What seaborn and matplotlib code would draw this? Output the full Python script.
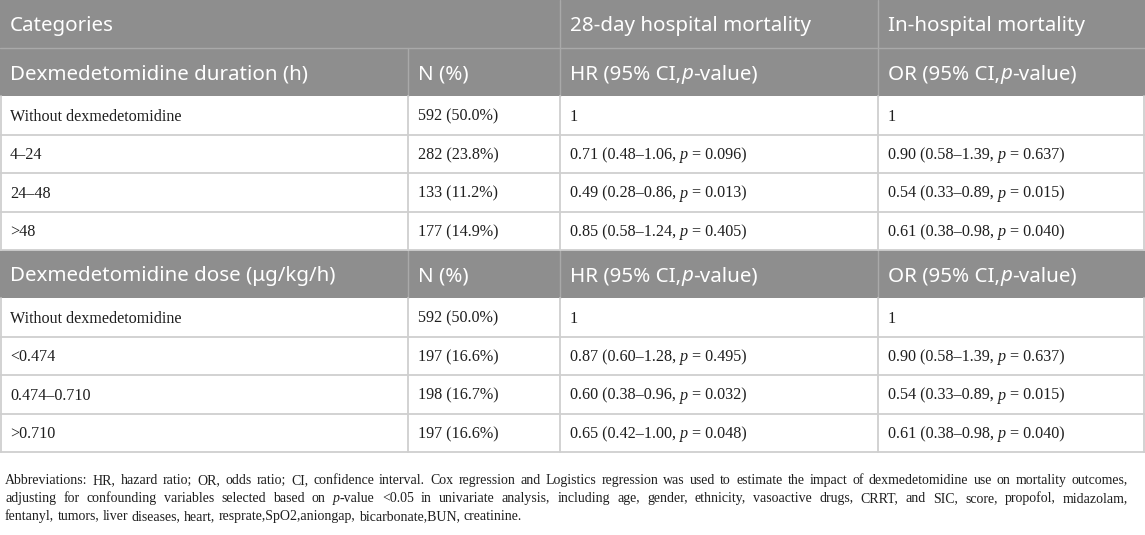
import matplotlib
matplotlib.use("Agg")
import matplotlib.pyplot as plt
from matplotlib.patches import Rectangle
import seaborn as sns

sns.set_theme(style="white")
plt.rcParams['font.family'] = ['Liberation Serif', 'DejaVu Serif']

# ---------------- data ----------------
duration_groups = ["Without dexmedetomidine", "4–24", "24–48", ">48"]
duration_n = [592, 282, 133, 177]
duration_pct = [50.0, 23.8, 11.2, 14.9]
duration_hr = [1, 0.71, 0.49, 0.85]
duration_hr_lo = [None, 0.48, 0.28, 0.58]
duration_hr_hi = [None, 1.06, 0.86, 1.24]
duration_hr_p = [None, 0.096, 0.013, 0.405]
duration_or = [1, 0.90, 0.54, 0.61]
duration_or_lo = [None, 0.58, 0.33, 0.38]
duration_or_hi = [None, 1.39, 0.89, 0.98]
duration_or_p = [None, 0.637, 0.015, 0.040]

dose_groups = ["Without dexmedetomidine", "<0.474", "0.474–0.710", ">0.710"]
dose_n = [592, 197, 198, 197]
dose_pct = [50.0, 16.6, 16.7, 16.6]
dose_hr = [1, 0.87, 0.60, 0.65]
dose_hr_lo = [None, 0.60, 0.38, 0.42]
dose_hr_hi = [None, 1.28, 0.96, 1.00]
dose_hr_p = [None, 0.495, 0.032, 0.048]
dose_or = [1, 0.90, 0.54, 0.61]
dose_or_lo = [None, 0.58, 0.33, 0.38]
dose_or_hi = [None, 1.39, 0.89, 0.98]
dose_or_p = [None, 0.637, 0.015, 0.040]

top_header = ["Categories", "28-day hospital mortality", "In-hospital mortality"]
duration_header = "Dexmedetomidine duration (h)"
dose_header = "Dexmedetomidine dose (μg/kg/h)"
col_headers = ["N (%)", "HR (95% CI,", "OR (95% CI,"]

footnote_lines = [
    "Abbreviations: HR, hazard ratio; OR, odds ratio; CI, confidence interval. Cox regression and Logistics regression was used to estimate the impact of dexmedetomidine use on mortality outcomes,",
    "adjusting for confounding variables selected based on p-value <0.05 in univariate analysis, including age, gender, ethnicity, vasoactive drugs, CRRT, and SIC, score, propofol, midazolam,",
    "fentanyl, tumors, liver diseases, heart, resprate,SpO2,aniongap, bicarbonate,BUN, creatinine.",
]

# ---------------- layout ----------------
W, H = 1145, 535
GRAY = "#8e8e8e"
HLINE = "#a9a9a9"
LINE = "#cfcfcf"
TXT = "#1e1e1e"
col_x = [0, 408, 560, 878, 1145]
hdr_h = 48
row_h = 38.5
PAD = 10

SANS = ['Noto Sans', 'DejaVu Sans']
SERIF = ['Liberation Serif', 'DejaVu Serif']
HDR_SIZE = 14.8
DATA_SIZE = 11.6

fig = plt.figure(figsize=(W / 100, H / 100), dpi=100)
ax = fig.add_axes([0, 0, 1, 1])
ax.set_xlim(0, W)
ax.set_ylim(H, 0)
ax.axis('off')
renderer = fig.canvas.get_renderer()


def text_w(s, size, family, style='normal'):
    if s == "":
        return 0.0
    t1 = ax.text(0, 0, "|" + s + "|", fontsize=size, family=family, style=style)
    t2 = ax.text(0, 0, "||", fontsize=size, family=family, style=style)
    w = t1.get_window_extent(renderer).width - t2.get_window_extent(renderer).width
    t1.remove()
    t2.remove()
    return w


def draw_runs(x, y, runs, size, family, color):
    for txt, style in runs:
        ax.text(x, y, txt, fontsize=size, family=family, style=style,
                color=color, va='baseline', ha='left')
        x += text_w(txt, size, family, style)
    return x


def stat_runs(v, lo, hi, p):
    if lo is None:
        return [(f"{v:g}", 'normal')]
    return [(f"{v:.2f} ({lo:.2f}–{hi:.2f}, ", 'normal'), ("p", 'italic'),
            (f" = {p:.3f})", 'normal')]


def hdr_base(y0, h):
    return y0 + h / 2 + 7.4


def data_base(y0):
    return y0 + row_h / 2 + 5.4


# ---- header background ----
ax.add_patch(Rectangle((0, 0), W, 2 * hdr_h, color=GRAY, lw=0))
y_dose_hdr = 2 * hdr_h + 4 * row_h
ax.add_patch(Rectangle((0, y_dose_hdr), W, hdr_h, color=GRAY, lw=0))

# header dividers
ax.plot([0, W], [hdr_h, hdr_h], color=HLINE, lw=1)
for cx in (col_x[2], col_x[3]):
    ax.plot([cx, cx], [0, 2 * hdr_h], color=HLINE, lw=1)
ax.plot([col_x[1], col_x[1]], [hdr_h, 2 * hdr_h], color=HLINE, lw=1)
for cx in col_x[1:4]:
    ax.plot([cx, cx], [y_dose_hdr, y_dose_hdr + hdr_h], color=HLINE, lw=1)

# header texts
yb = hdr_base(0, hdr_h)
draw_runs(col_x[0] + PAD, yb, [(top_header[0], 'normal')], HDR_SIZE, SANS, 'white')
draw_runs(col_x[2] + PAD, yb, [(top_header[1], 'normal')], HDR_SIZE, SANS, 'white')
draw_runs(col_x[3] + PAD, yb, [(top_header[2], 'normal')], HDR_SIZE, SANS, 'white')


def section_header(y0, title):
    yb = hdr_base(y0, hdr_h)
    draw_runs(col_x[0] + PAD, yb, [(title, 'normal')], HDR_SIZE, SANS, 'white')
    draw_runs(col_x[1] + PAD, yb, [(col_headers[0], 'normal')], HDR_SIZE, SANS, 'white')
    draw_runs(col_x[2] + PAD, yb, [(col_headers[1], 'normal'), ("p", 'italic'), ("-value)", 'normal')],
              HDR_SIZE, SANS, 'white')
    draw_runs(col_x[3] + PAD, yb, [(col_headers[2], 'normal'), ("p", 'italic'), ("-value)", 'normal')],
              HDR_SIZE, SANS, 'white')


def section_body(y0, groups, n, pct, hr, hr_lo, hr_hi, hr_p, orr, or_lo, or_hi, or_p):
    for i in range(len(groups)):
        ytop = y0 + i * row_h
        yb = data_base(ytop)
        draw_runs(col_x[0] + PAD, yb, [(groups[i], 'normal')], DATA_SIZE, SERIF, TXT)
        draw_runs(col_x[1] + PAD, yb, [(f"{n[i]} ({pct[i]:.1f}%)", 'normal')], DATA_SIZE, SERIF, TXT)
        draw_runs(col_x[2] + PAD, yb, stat_runs(hr[i], hr_lo[i], hr_hi[i], hr_p[i]), DATA_SIZE, SERIF, TXT)
        draw_runs(col_x[3] + PAD, yb, stat_runs(orr[i], or_lo[i], or_hi[i], or_p[i]), DATA_SIZE, SERIF, TXT)
        ax.plot([0, W], [ytop + row_h, ytop + row_h], color=LINE, lw=1.3)
    for cx in col_x[1:4]:
        ax.plot([cx, cx], [y0, y0 + len(groups) * row_h], color=LINE, lw=1.3)
    ax.plot([0.7, 0.7], [y0, y0 + len(groups) * row_h], color=LINE, lw=1.3)
    ax.plot([W - 0.7, W - 0.7], [y0, y0 + len(groups) * row_h], color=LINE, lw=1.3)


section_header(hdr_h, duration_header)
section_body(2 * hdr_h, duration_groups, duration_n, duration_pct,
             duration_hr, duration_hr_lo, duration_hr_hi, duration_hr_p,
             duration_or, duration_or_lo, duration_or_hi, duration_or_p)
section_header(y_dose_hdr, dose_header)
section_body(y_dose_hdr + hdr_h, dose_groups, dose_n, dose_pct,
             dose_hr, dose_hr_lo, dose_hr_hi, dose_hr_p,
             dose_or, dose_or_lo, dose_or_hi, dose_or_p)

# ---- footnote ----
FX0, FX1 = 5, 1128
foot_y = [484, 502, 520]


def word_runs(w):
    if w == "p-value":
        return [("p", 'italic'), ("-value", 'normal')]
    return [(w, 'normal')]


# pick a font size at which the first line's natural width is close to the target width
ref_size = 10.0
ref_w = text_w(footnote_lines[0], ref_size, SERIF)
FOOT_SIZE = ref_size * 1085 / ref_w

for li, line in enumerate(footnote_lines):
    words = line.split(" ")
    wr = [word_runs(w) for w in words]
    widths = [sum(text_w(t, FOOT_SIZE, SERIF, s) for t, s in r) for r in wr]
    if li < len(footnote_lines) - 1:
        gap = (FX1 - FX0 - sum(widths)) / (len(words) - 1)
    else:
        gap = text_w(" ", FOOT_SIZE, SERIF)
    x = FX0
    for r, wdt in zip(wr, widths):
        draw_runs(x, foot_y[li], r, FOOT_SIZE, SERIF, TXT)
        x += wdt + gap

fig.savefig("out.png", dpi=100)
